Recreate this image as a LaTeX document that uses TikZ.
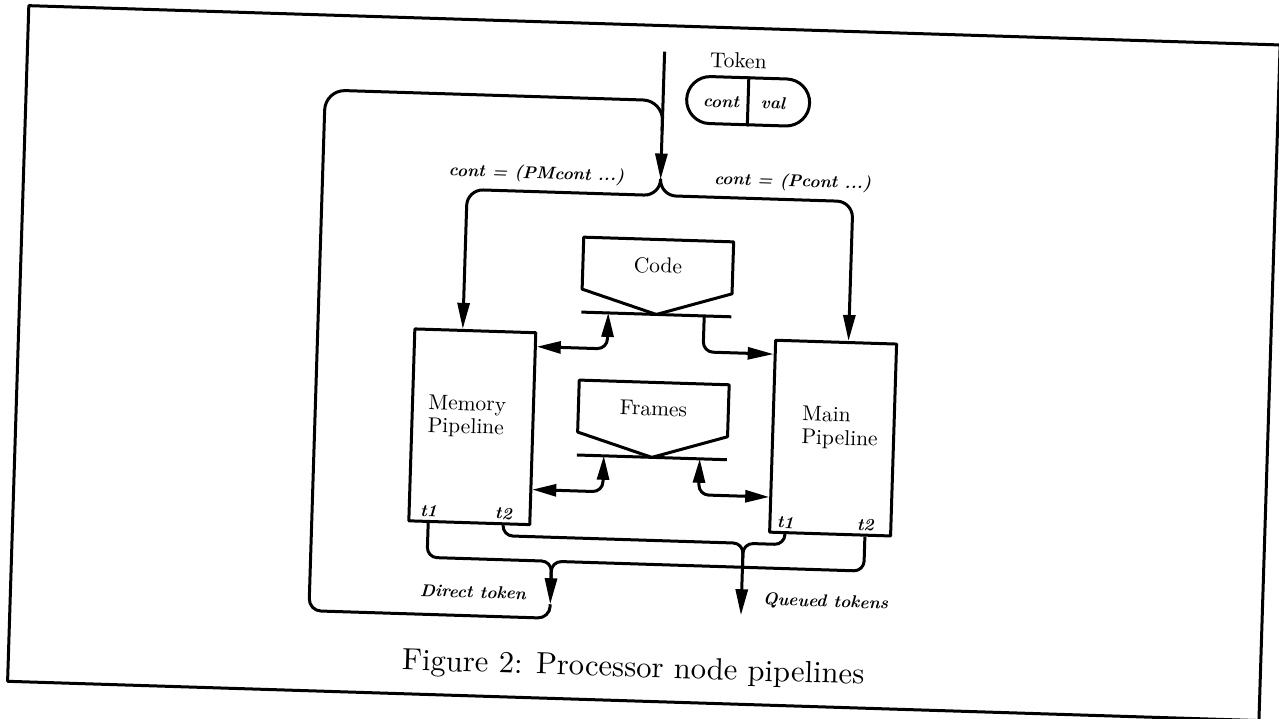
\documentclass[tikz,border=0pt]{standalone}
\usepackage{fontspec}
\newfontfamily\capfont{lmroman10-regular.otf}
\usetikzlibrary{arrows.meta,calc,positioning,shapes.misc}
\tikzset{
	pipe/.style={draw,minimum width=60.5pt,minimum height=96pt,inner sep=0pt},
	txt/.style={font=\fontsize{10.75}{11.5}\selectfont,inner sep=0pt,align=left},
	tag/.style={font=\fontsize{8.6}{10}\selectfont\bfseries\itshape,inner sep=0pt},
	store/.style={txt,minimum width=73.5pt,minimum height=24.5pt},
	tip/.style={-{Triangle[length=13pt,width=6pt]}},
	tips/.style={{Triangle[length=12pt,width=6pt]}-{Triangle[length=12pt,width=6pt]}},
}
\begin{document}
\begin{tikzpicture}[x=0.5pt,y=-0.5pt,line width=1.5pt,line join=round]
	\useasboundingbox (0,0) rectangle (1279,718);
	\begin{scope}[rotate around={-1.8:(640,359)},transform shape]
		\draw (18,25) rectangle (1270,701);
		\node[pipe] (mem) at (474.5,432) {};
		\node[pipe] (main) at (835.5,432) {};
		\node[txt,anchor=west] (memtxt) at ([shift={(16,-10)}]mem.west) {Memory\\Pipeline};
		\node[txt,anchor=west] (maintxt) at ([shift={(29,-10)}]main.west) {Main\\Pipeline};
		\node[tag,anchor=base] (mt1) at ([shift={(21,-6)}]mem.south west) {t1};
		\node[tag,anchor=base] (mt2) at ([shift={(-28,-6)}]mem.south east) {t2};
		\node[tag,anchor=base] (nt1) at ([shift={(17,-6)}]main.south west) {t1};
		\node[tag,anchor=base] (nt2) at ([shift={(-27,-6)}]main.south east) {t2};
		\node[store] (code) at (655,265) {Code};
		\node[store] (frames) at (655,408) {Frames};
		\foreach \s/\a in {code/tip,frames/tips}{
			\draw (\s.south west)--(\s.north west)--(\s.north east)--(\s.south east)
				--([shift={(0,23)}]\s.south)coordinate(\s-v)--cycle;
			\draw (\s.west|-\s-v)--(\s.east|-\s-v);
			\path (\s-v)++(-48,0)coordinate(\s-l)++(96,0)coordinate(\s-r)
				(\s-v)++(0,36)coordinate(\s-lo);
			\draw[tips,rounded corners=5pt] (mem.east|-\s-lo)-|(\s-l);
			\draw[\a,rounded corners=5pt] (\s-r)|-(main.west|-\s-lo);
		}
		\node[draw,rounded rectangle,minimum width=61.5pt,minimum height=23.5pt,inner sep=0pt] (token) at (740,98) {};
		\draw (token.north)--(token.south);
		\node[tag,anchor=base] (cont) at ([shift={(-27,7)}]token.center) {cont};
		\node[tag,anchor=base] (val) at ([shift={(25,7)}]token.center) {val};
		\node[txt,anchor=base] (toklbl) at ([shift={(-11,-33)}]token.center) {Token};
		\node[tag,anchor=base east] (pmlbl) at (620,182) {cont = (PMcont ...)};
		\node[tag,anchor=base west] (plbl) at (707,182) {cont = (Pcont ...)};
		\node[tag,anchor=base east] (dlbl) at (535,603) {Direct token};
		\node[tag,anchor=base west] (qlbl) at (769,601) {Queued tokens};
		\node[font=\capfont\fontsize{15.3}{18}\selectfont,anchor=base,inner sep=0pt] (cap) at (643,677) {Figure 2: Processor node pipelines};
		\path (655,51)coordinate(in) (655,179)coordinate(split) (655,195)coordinate(fork)
			([shift={(-12.5,0)}]mem.north)coordinate(memin)
			([shift={(12.5,0)}]main.north)coordinate(mainin)
			(558,564)coordinate(dfork) (558,585)coordinate(dstem) (558,607)coordinate(dtip)
			(749,540)coordinate(qfork) (749,565)coordinate(qstem) (749,612)coordinate(qtip)
			(317,621)coordinate(lpa) (317,100)coordinate(lpb) (655,130)coordinate(merge);
		\draw[tip] (in)--(split);
		\draw[tip,rounded corners=8pt] (split)|-(memin|-fork)--(memin);
		\draw[tip,rounded corners=8pt] (split)|-(mainin|-fork)--(mainin);
		\draw[rounded corners=5pt] (mt1|-mem.south)|-(dfork)--(dstem);
		\draw[rounded corners=5pt] (nt2|-main.south)|-(dfork)--(dstem);
		\draw[tip] (dstem)--(dtip);
		\draw[rounded corners=5pt] (mt2|-mem.south)|-(qfork)--(qstem);
		\draw[rounded corners=5pt] (nt1|-main.south)|-(qfork)--(qstem);
		\draw[tip] (qstem)--(qtip);
		\draw[rounded corners=6pt] (dtip)|-(lpa) [rounded corners=10pt]--(lpb)-|(merge);
	\end{scope}
\end{tikzpicture}
\end{document}
